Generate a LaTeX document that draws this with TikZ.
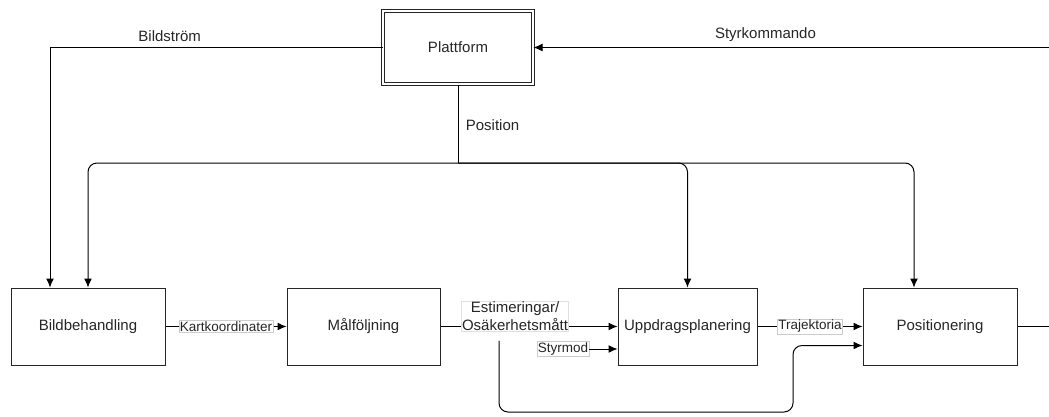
\documentclass[tikz,border=0pt]{standalone}
\usepackage{fontspec}
\setmainfont{Liberation Sans}
\usetikzlibrary{arrows.meta}

\newcommand{\boxfont}{\fontsize{15}{18}\selectfont}
\newcommand{\lblfont}{\fontsize{13.5}{16}\selectfont}

\begin{document}
\begin{tikzpicture}[x=1pt,y=-1pt,
    line width=1pt, >={Latex[length=9pt,width=8pt]},
    block/.style={draw=black!85, minimum height=77pt, inner sep=1pt, font=\boxfont, text=black!85},
    lbl/.style={draw=black!20, line width=0.5pt, fill=white, inner sep=1pt, font=\lblfont, text=black!85},
    txt/.style={font=\boxfont, text=black!85}]
  \useasboundingbox (0,0) rectangle (1049,416);

  % Blocks
  \node[block, double, double distance=2pt, minimum width=150pt, minimum height=73pt] (plat) at (458,47.5) {Plattform};
  \node[block, minimum width=154pt] (bild) at (88,326.5) {Bildbehandling};
  \node[block, minimum width=153pt] (malf) at (363.5,326.5) {Målföljning};
  \node[block, minimum width=139pt] (uppd) at (687.5,326.5) {Uppdragsplanering};
  \node[block, minimum width=154pt] (pos) at (940,326.5) {Positionering};

  % Free ends at the border
  \coordinate (cmdin) at (1049,47.5);
  \coordinate (posout) at (1049,326.5);
  \coordinate (split) at (458,163);

  % Platform connections
  \draw[->] (plat.west) -| ([xshift=-38pt]bild.north) node[txt, pos=0.32, above=2pt] {Bildström};
  \draw[->] (cmdin) -- (plat.east) node[txt, pos=0.55, above=2pt] {Styrkommando};
  \draw (plat.south) -- (split) node[txt, pos=0.52, right=4pt] {Position};
  \draw[->, rounded corners=9pt] (split) -| (bild.north);
  \draw[->, rounded corners=9pt] (split) -| (uppd.north);
  \draw[->, rounded corners=9pt] (split) -| ([xshift=-26pt]pos.north);

  % Chain
  \draw[->] (bild) -- node[lbl] {Kartkoordinater} (malf);
  \draw[->] (malf) -- (uppd);
  \node[lbl, draw=black!12, font=\boxfont, align=center, inner sep=0.5pt] (est) at (515,316.5) {Estimeringar/\\Osäkerhetsmått};
  \node[lbl] (stm) at (563,349) {Styrmod};
  \draw[->] (stm.east) -- (stm.east -| uppd.west);
  \draw[->] (uppd) -- node[lbl] {Trajektoria} (pos);
  \draw (pos.east) -- (posout);

  % Feedback under the chain
  \draw[->, rounded corners=9pt] ([xshift=-16pt,yshift=-9pt]est.south) -- ([xshift=-16pt]est.south |- 0,412)
    -- (793,412) |- ([yshift=-19pt]pos.west);
\end{tikzpicture}
\end{document}
